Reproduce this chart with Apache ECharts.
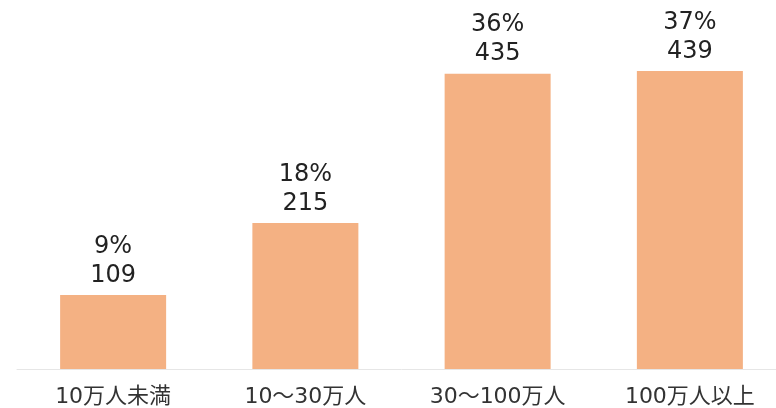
<!DOCTYPE html>
<html><head><meta charset="utf-8">
<script src="https://cdn.jsdelivr.net/npm/echarts@6/dist/echarts.min.js"></script>
<style>html,body{margin:0;padding:0;background:#fff;overflow:hidden;width:776px;height:408px}#c{width:786px;height:408px}</style>
</head><body><div id="c"></div>
<script>
const categories = ['10万人未満', '10～30万人', '30～100万人', '100万人以上'];
const counts = [109, 215, 435, 439];
const percents = ['9%', '18%', '36%', '37%'];

const chart = echarts.init(document.getElementById('c'));
chart.setOption({
  animation: false,
  grid: { left: 17, right: 0, top: 29.5, bottom: 39, containLabel: false },
  xAxis: {
    type: 'category', data: categories,
    axisLine: { lineStyle: { color: '#e6e6e6', width: 1 } },
    axisTick: { show: false },
    splitLine: { show: false },
    axisLabel: { color: '#333', fontSize: 22, margin: 17, fontFamily: 'DejaVu Sans, Noto Sans CJK JP' }
  },
  yAxis: { type: 'value', min: 0, max: 500, show: false, splitLine: { show: false } },
  series: [{
    type: 'bar', data: counts, barWidth: 106,
    itemStyle: { color: '#F4B183' },
    label: {
      show: true, position: 'top', distance: 5,
      color: '#222', fontSize: 24, lineHeight: 29, fontFamily: 'DejaVu Sans',
      formatter: p => percents[p.dataIndex] + '\n' + p.value
    }
  }]
});
</script></body></html>
